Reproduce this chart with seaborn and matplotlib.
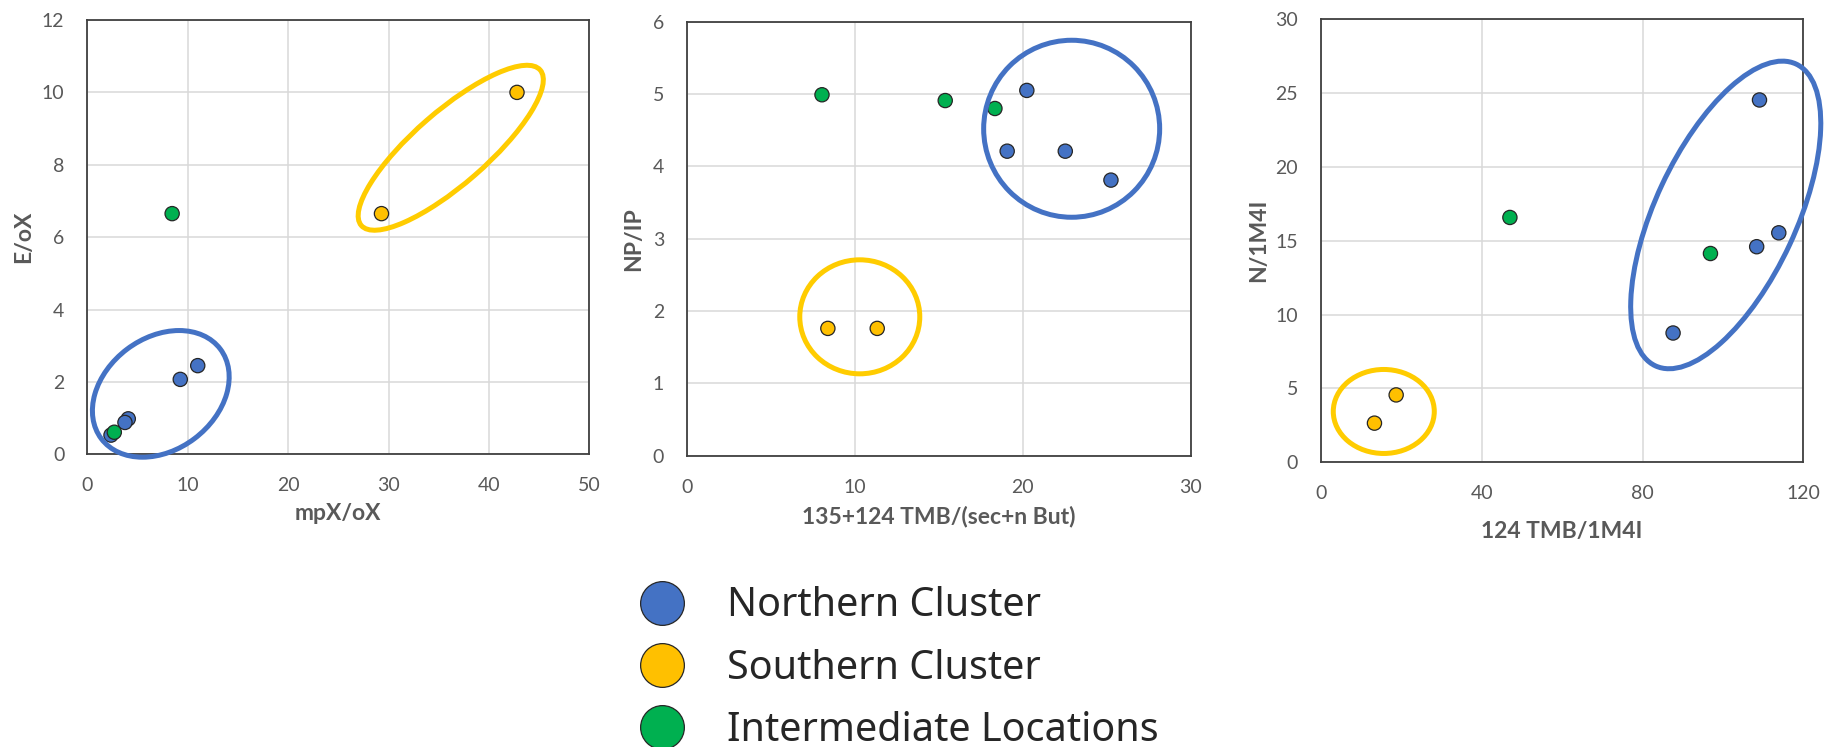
import numpy as np
import pandas as pd
import seaborn as sns
import matplotlib
matplotlib.use("Agg")
import matplotlib.pyplot as plt
import matplotlib.transforms as mtransforms
from matplotlib.patches import Ellipse
from matplotlib.lines import Line2D

# ---------------- data ----------------
groups = ["Northern Cluster", "Southern Cluster", "Intermediate Locations"]
group_colors = ["#4472C4", "#FFC000", "#00B050"]

# Panel 1: mpX/oX vs E/oX
p1_north_x = [2.36, 11.0, 9.26, 4.08, 3.75]
p1_north_y = [0.53, 2.45, 2.07, 0.98, 0.88]
p1_south_x = [29.3, 42.8]
p1_south_y = [6.65, 10.0]
p1_inter_x = [8.45, 2.69]
p1_inter_y = [6.65, 0.61]

# Panel 2: 135+124 TMB/(sec+n But) vs NP/IP
p2_north_x = [20.24, 19.07, 22.53, 25.25]
p2_north_y = [5.05, 4.21, 4.21, 3.81]
p2_south_x = [8.39, 11.33]
p2_south_y = [1.76, 1.76]
p2_inter_x = [8.04, 15.38, 18.34]
p2_inter_y = [4.99, 4.91, 4.80]

# Panel 3: 124 TMB/1M4I vs N/1M4I
p3_north_x = [109.1, 113.9, 108.4, 87.6]
p3_north_y = [24.52, 15.53, 14.59, 8.75]
p3_south_x = [18.7, 13.3]
p3_south_y = [4.56, 2.65]
p3_inter_x = [47.0, 96.9]
p3_inter_y = [16.57, 14.13]

x_labels = ["mpX/oX", "135+124 TMB/(sec+n But)", "124 TMB/1M4I"]
y_labels = ["E/oX", "NP/IP", "N/1M4I"]
x_ticks = [[0, 10, 20, 30, 40, 50], [0, 10, 20, 30], [0, 40, 80, 120]]
y_ticks = [[0, 2, 4, 6, 8, 10, 12], [0, 1, 2, 3, 4, 5, 6], [0, 5, 10, 15, 20, 25, 30]]


def make_df(nx, ny, sx, sy, ix, iy):
    return pd.DataFrame({
        "x": nx + sx + ix,
        "y": ny + sy + iy,
        "group": [groups[0]] * len(nx) + [groups[1]] * len(sx) + [groups[2]] * len(ix),
    })


dfs = [
    make_df(p1_north_x, p1_north_y, p1_south_x, p1_south_y, p1_inter_x, p1_inter_y),
    make_df(p2_north_x, p2_north_y, p2_south_x, p2_south_y, p2_inter_x, p2_inter_y),
    make_df(p3_north_x, p3_north_y, p3_south_x, p3_south_y, p3_inter_x, p3_inter_y),
]

# cluster outline ellipses: (panel, centre x, centre y, width px, height px, angle, colour)
outline_specs = [
    (0, 7.32, 1.67, 149, 112, 37, "#4472C4"),
    (0, 36.2, 8.47, 237, 73, 41, "#FFCC00"),
    (1, 22.91, 4.52, 176, 177, 0, "#4472C4"),
    (1, 10.29, 1.92, 120, 114, 0, "#FFCC00"),
    (2, 100.7, 16.74, 333, 141, 65, "#4472C4"),
    (2, 15.62, 3.44, 101, 84, 0, "#FFCC00"),
]

# ---------------- style ----------------
sns.set_theme(style="white")
plt.rcParams["font.family"] = ["Lato", "DejaVu Sans"]

DPI = 100
W, H = 1829, 747
fig = plt.figure(figsize=(W / DPI, H / DPI), dpi=DPI)
fig.patch.set_facecolor("white")

# (left, top, width, height) in pixels
axes_px = [(87.3, 20.0, 502.0, 434.3), (687.0, 21.7, 503.7, 434.0), (1321.0, 19.0, 482.3, 443.3)]
ylabel_x = [-0.1275, -0.106, -0.130]
xlabel_y = [-0.136, -0.139, -0.155]

palette = dict(zip(groups, group_colors))
axes = []
for i, (l, t, w, h) in enumerate(axes_px):
    ax = fig.add_axes([l / W, 1 - (t + h) / H, w / W, h / H])
    axes.append(ax)
    sns.scatterplot(data=dfs[i], x="x", y="y", hue="group", palette=palette,
                    s=105, edgecolor="#262626", linewidth=0.9, legend=False,
                    ax=ax, zorder=3)
    ax.set_xlim(x_ticks[i][0], x_ticks[i][-1])
    ax.set_ylim(y_ticks[i][0], y_ticks[i][-1])
    ax.set_xticks(x_ticks[i])
    ax.set_yticks(y_ticks[i])
    ax.grid(True, color="#D9D9D9", linewidth=1.1)
    ax.set_axisbelow(True)
    for sp in ax.spines.values():
        sp.set_visible(True)
        sp.set_color("#404040")
        sp.set_linewidth(1.3)
    ax.tick_params(axis="both", length=0, labelsize=14, labelcolor="#595959")
    ax.tick_params(axis="x", pad=16.5)
    ax.tick_params(axis="y", pad=16.5)
    ax.set_xlabel(x_labels[i], fontsize=16.5, fontweight="bold", color="#595959")
    ax.set_ylabel(y_labels[i], fontsize=16.5, fontweight="bold", color="#595959")
    ax.xaxis.label.set_va("center")
    ax.yaxis.label.set_va("center")
    ax.xaxis.set_label_coords(0.5, xlabel_y[i])
    ax.yaxis.set_label_coords(ylabel_x[i], 0.5)

for (pi, cx, cy, wpx, hpx, ang, col) in outline_specs:
    ax = axes[pi]
    trans = fig.dpi_scale_trans + mtransforms.ScaledTranslation(cx, cy, ax.transData)
    e = Ellipse((0, 0), wpx / DPI, hpx / DPI, angle=ang, transform=trans,
                fill=False, edgecolor=col, linewidth=3.6, clip_on=False, zorder=4)
    ax.add_patch(e)

handles = [Line2D([0], [0], marker="o", linestyle="none", markersize=31.5,
                  markerfacecolor=c, markeredgecolor="#262626", markeredgewidth=0.9)
           for c in group_colors]
fig.legend(handles, groups, loc="upper left", bbox_to_anchor=(637.9 / W, 1 - 586.5 / H),
           frameon=False, handlelength=1.2, handletextpad=1.05,
           labelspacing=0.56, borderpad=0, borderaxespad=0,
           prop={"family": ["Noto Sans", "DejaVu Sans"], "size": 28.5})

fig.savefig("out.png", dpi=DPI, facecolor="white")
